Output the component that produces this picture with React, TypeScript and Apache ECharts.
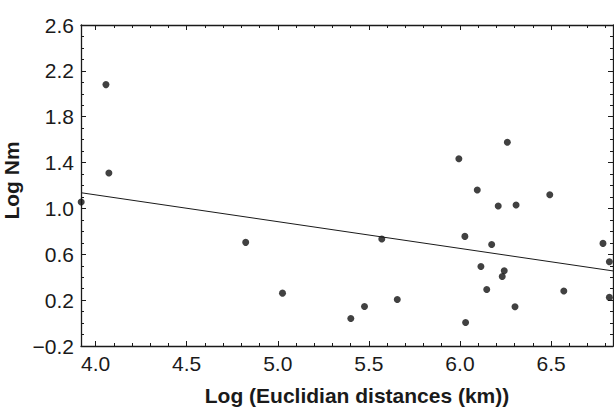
import React, { useEffect, useRef } from "react";
import * as echarts from "echarts";

// Observed points (Log Euclidian distance, Log Nm)
const pointX = [4.057, 4.073, 3.921, 4.824, 5.026, 5.401, 5.476, 5.571, 5.656, 5.994, 6.26, 6.095, 6.21, 6.308, 6.493, 6.027, 6.174, 6.785, 6.82, 6.115, 6.243, 6.232, 6.147, 6.57, 6.82, 6.302, 6.031];
const pointY = [2.08, 1.309, 1.056, 0.704, 0.261, 0.04, 0.145, 0.733, 0.206, 1.434, 1.577, 1.161, 1.021, 1.03, 1.12, 0.756, 0.686, 0.695, 0.535, 0.494, 0.456, 0.407, 0.293, 0.279, 0.224, 0.142, 0.005];

// Regression line endpoints
const fitX = [3.92, 6.84];
const fitY = [1.137, 0.455];

// Axis ranges
const xMin = 3.92;
const xMax = 6.84;
const yMin = -0.2;
const yMax = 2.6;
const yStep = 0.4;

const xTitle = "Log (Euclidian distances (km))";
const yTitle = "Log Nm";

const INK = "#1a1a1a";
const FONT = "'Liberation Sans', Arial, Helvetica, sans-serif";

const mkLine = () => ({ show: true, onZero: false, lineStyle: { color: INK, width: 1.3 } });
const mkTick = () => ({ show: true, inside: true, length: 5, lineStyle: { color: INK, width: 1 } });
const mkMinor = (n: number) => ({ show: true, splitNumber: n, length: 3, lineStyle: { color: INK, width: 1 } });

export default function App() {
  const ref = useRef<HTMLDivElement>(null);
  useEffect(() => {
    document.body.style.margin = "0";
    const chart = echarts.init(ref.current!, null, { renderer: "svg" });
    const fmt = (v: number) => (v < 0 ? "\u2212" : "") + Math.abs(v).toFixed(1);
    chart.setOption({
      animation: false,
      backgroundColor: "#ffffff",
      grid: { left: 81, right: 1, top: 25, bottom: 61, containLabel: false, outerBoundsMode: "none" },
      xAxis: [
        {
          type: "value",
          min: xMin,
          max: xMax,
          position: "bottom",
          name: xTitle,
          nameLocation: "middle",
          nameGap: 39,
          nameTextStyle: { fontFamily: FONT, fontSize: 21, fontWeight: "bold", color: INK, padding: [0, 0, 0, 20] },
          axisLine: mkLine(),
          axisTick: mkTick(),
          minorTick: mkMinor(5),
          splitLine: { show: false },
          minorSplitLine: { show: false },
          axisLabel: {
            show: true,
            margin: 7,
            showMinLabel: false,
            showMaxLabel: false,
            fontFamily: FONT,
            fontSize: 21,
            color: INK,
            formatter: fmt,
          },
        },
        {
          type: "value",
          min: xMin,
          max: xMax,
          position: "top",
          axisLine: mkLine(),
          axisTick: mkTick(),
          minorTick: mkMinor(5),
          splitLine: { show: false },
          axisLabel: { show: false },
        },
      ],
      yAxis: [
        {
          type: "value",
          min: yMin,
          max: yMax,
          interval: yStep,
          position: "left",
          name: yTitle,
          nameLocation: "middle",
          nameGap: 48,
          nameTextStyle: { fontFamily: FONT, fontSize: 21, fontWeight: "bold", color: INK, padding: [0, 0, 0, 10] },
          axisLine: mkLine(),
          axisTick: mkTick(),
          minorTick: mkMinor(4),
          splitLine: { show: false },
          axisLabel: { show: true, margin: 7, fontFamily: FONT, fontSize: 21, color: INK, formatter: fmt },
        },
        {
          type: "value",
          min: yMin,
          max: yMax,
          interval: yStep,
          position: "right",
          axisLine: mkLine(),
          axisTick: mkTick(),
          minorTick: mkMinor(4),
          splitLine: { show: false },
          axisLabel: { show: false },
        },
      ],
      series: [
        {
          name: "Regression",
          type: "line",
          data: fitX.map((x, i) => [x, fitY[i]]),
          showSymbol: false,
          symbol: "none",
          lineStyle: { color: INK, width: 1 },
          silent: true,
        },
        {
          name: "Observed",
          type: "scatter",
          data: pointX.map((x, i) => [x, pointY[i]]),
          symbol: "circle",
          symbolSize: 7,
          clip: false,
          itemStyle: { color: "#111" },
        },
      ],
    });
    return () => chart.dispose();
  }, []);
  return <div ref={ref} style={{ position: "absolute", left: 0, top: 0, width: 614, height: 407 }} />;
}
